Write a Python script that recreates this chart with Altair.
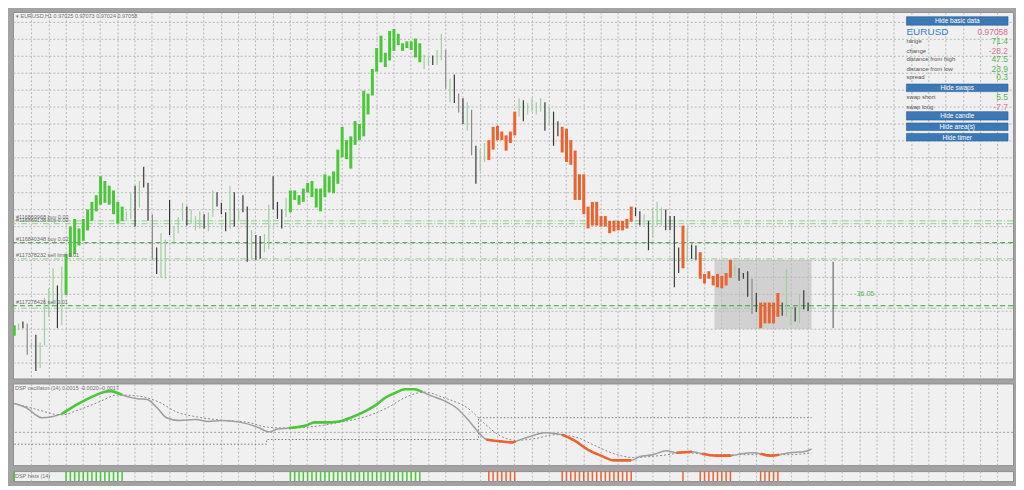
import altair as alt
import numpy as np
import pandas as pd

# ---------------- data ----------------
SYMBOL = "EURUSD"
TIMEFRAME = "H1"
LAST_OHLC = ["0.97025", "0.97073", "0.97024", "0.97058"]

# bar state: G = bullish (green), O = bearish (orange), D = dark neutral, L = light neutral, M = grey neutral
STATES = ("GLDMLDLLLL" "DLGGGGGGGG" "GGGGGGLLDL" "DDMDLLDLLL" "DLLLDLLDDD"
          "LDLDDLDDLL" "DDDLGGGGGG" "GGGGGGGGGG" "GGGGGGGGGG" "GGGGGLLDLL"
          "MLDMDLMDLL" "OOOOOOOLDL" "LLLDLDDOOO" "OOOOOOOOOO" "OOOODDLDLL"
          "LDDDDOLDDO" "OOOOOOOLDD" "DMDOOOOODL" "LDLDD")

# bar highs / lows in points (1 point = 0.00001)
HIGHS = [
    96963, 96973, 96983, 96973, 96873, 96913, 96873, 97108, 97158, 97263,
    97173, 97273, 97338, 97483, 97523, 97473, 97523, 97573, 97613, 97648,
    97748, 97723, 97698, 97673, 97613, 97588, 97563, 97663, 97698, 97723,
    97798, 97713, 97548, 97373, 97448, 97413, 97623, 97483, 97533, 97608,
    97588, 97573, 97538, 97563, 97548, 97558, 97673, 97663, 97608, 97558,
    97698, 97663, 97573, 97648, 97588, 97463, 97438, 97433, 97443, 97598,
    97748, 97613, 97573, 97633, 97673, 97673, 97648, 97683, 97713, 97723,
    97683, 97683, 97758, 97748, 97773, 97888, 98008, 97938, 97958, 98038,
    98023, 98198, 98183, 98313, 98423, 98488, 98398, 98513, 98523, 98498,
    98448, 98458, 98458, 98473, 98448, 98388, 98383, 98383, 98413, 98498,
    98413, 98263, 98283, 98183, 98158, 98138, 98098, 97908, 97888, 97923,
    97938, 98008, 98013, 97983, 97963, 97983, 98088, 98158, 98148, 98133,
    98158, 98138, 98158, 98138, 98113, 98088, 98038, 98008, 97998, 97938,
    97883, 97758, 97758, 97588, 97613, 97613, 97538, 97538, 97513, 97513,
    97513, 97513, 97523, 97588, 97583, 97563, 97548, 97513, 97583, 97613,
    97583, 97573, 97538, 97538, 97373, 97488, 97473, 97388, 97383, 97348,
    97233, 97248, 97223, 97233, 97223, 97238, 97308, 97283, 97263, 97238,
    97248, 97208, 97133, 97083, 97083, 97083, 97083, 97133, 97083, 97258,
    97058, 97058, 97123, 97148, 97083,
]
LOWS = [
    96908, 96938, 96948, 96808, 96848, 96723, 96738, 96858, 97008, 97073,
    96948, 96963, 97123, 97323, 97338, 97383, 97408, 97463, 97513, 97563,
    97598, 97608, 97598, 97548, 97498, 97513, 97513, 97523, 97483, 97583,
    97688, 97513, 97308, 97233, 97213, 97208, 97438, 97388, 97448, 97513,
    97488, 97498, 97463, 97473, 97473, 97458, 97533, 97588, 97548, 97458,
    97473, 97483, 97513, 97558, 97298, 97308, 97308, 97313, 97348, 97363,
    97573, 97523, 97473, 97533, 97558, 97623, 97598, 97613, 97663, 97638,
    97583, 97563, 97638, 97663, 97658, 97708, 97848, 97838, 97788, 97913,
    97938, 97958, 98073, 98173, 98298, 98348, 98323, 98358, 98408, 98438,
    98408, 98423, 98413, 98373, 98348, 98313, 98333, 98333, 98333, 98358,
    98208, 98138, 98133, 98083, 98023, 97988, 97858, 97708, 97773, 97823,
    97833, 97888, 97938, 97938, 97883, 97923, 97963, 98063, 98038, 98073,
    98088, 98073, 98088, 97988, 98023, 97908, 97958, 97873, 97823, 97808,
    97623, 97623, 97548, 97473, 97488, 97488, 97483, 97483, 97448, 97458,
    97463, 97463, 97473, 97508, 97538, 97488, 97488, 97358, 97423, 97488,
    97488, 97463, 97463, 97163, 97238, 97263, 97298, 97313, 97308, 97208,
    97183, 97208, 97173, 97163, 97158, 97173, 97213, 97223, 97198, 97208,
    97113, 97023, 97033, 96948, 96973, 96973, 96973, 97008, 97013, 97008,
    96963, 96983, 96973, 97048, 97038,
]

# trade / order lines (points)
ORDER_PRICES = [97513, 97498, 97398, 97313, 97066, 97053]
ORDER_LABELS = ["#116869968 buy 0.02", "#116869138 buy 0.02", "#116840348 buy 0.02",
                "#117378232 sell limit 0.01", "#117278426 sell 0.01", ""]
ORDER_KIND = ["light", "light", "dark", "light", "dark", "light"]

# shaded area and the higher-timeframe candle line
AREA_IDX = [162.3, 184.8]
AREA_PTS = [97308, 96943]
CANDLE_IDX = 189.8
CANDLE_PTS = [97298, 96948]
AREA_TEXT = "36.05"
AREA_TEXT_IDX = 197.3
AREA_TEXT_PTS = 97128

# info panel
INFO_PRICE = "0.97058"
INFO_ROWS = [("range", "71.4"), ("change", "-28.2"), ("distance from high", "47.5"),
             ("distance from low", "23.9"), ("spread", "0.3")]
SWAP_ROWS = [("swap short", "5.5"), ("swap long", "-7.7")]
BUTTONS = ["Hide basic data", "Hide swaps", "Hide candle", "Hide area(s)", "Hide timer"]

# DSP oscillator (values in units of 0.0001), x in bar index
OSC_IDX = [0, 2.6, 6.4, 8.7, 11, 15, 18.5, 20.8, 22.3, 24, 25, 28.5, 30.8, 33, 35.3, 38.3, 42, 45,
           48, 52.6, 56.4, 59.2, 61, 63.7, 67.8, 69.6, 72.3, 75.3, 78.5, 81.4, 83.7, 86, 88.3,
           90.5, 92.8, 94.6, 96.7, 99.6, 102.6, 105.7, 108.3, 109.4, 112.6, 115.5, 116.2, 119.4,
           123, 125.8, 127, 129.8, 133, 136, 139, 143, 145, 148, 151.2, 153.5, 157.1, 159.4,
           162.6, 166.2, 168.5, 171.6, 173, 175.3, 177.3, 179.8, 183, 184.8]
OSC_VAL = [29.6, 25.7, 15.0, 16.0, 18.9, 29.6, 37.3, 41.2, 42.2, 40.3, 38.3, 34.4, 33.5, 25.7, 15.0,
           12.1, 13.1, 11.2, 12.1, 10.2, 5.3, 0.5, 3.4, 4.4, 7.3, 10.2, 10.2, 11.2, 16.0, 21.8, 27.6,
           35.4, 40.3, 44.1, 44.1, 41.2, 37.3, 32.5, 24.7, 10.2, -3.4, -7.3, -9.2, -10.2, -9.2,
           -4.4, -0.5, -1.5, -2.4, -8.2, -17.9, -23.8, -28.6, -28.6, -24.7, -22.8, -18.9, -20.9,
           -19.9, -21.8, -23.8, -23.8, -21.8, -20.9, -21.8, -23.8, -22.8, -20.9, -19.9, -17.0]
SIG_IDX = [0, 4.2, 11, 14.8, 19.4, 24, 28.5, 33.7, 37.6, 42.1, 48.9, 54.2, 58.7, 63.3, 70, 75.3,
           81.4, 86.7, 90.5, 95, 99.6, 105.7, 108.7, 112.6, 116.2, 120.8, 125.3, 129.8, 134.4,
           139, 143.5, 149.6, 155.8, 161.7, 167.8, 173.9, 179.8, 184.8]
SIG_VAL = [29.6, 24.7, 17.9, 22.8, 30.6, 38.3, 37.3, 30.6, 20.9, 16.0, 12.1, 10.2, 5.3, 4.4, 6.3,
           10.2, 16.0, 25.7, 35.4, 41.2, 35.4, 22.8, 10.2, -3.4, -8.2, -6.3, -2.4, -4.4, -13.1,
           -21.8, -25.7, -23.8, -20.9, -22.8, -22.8, -22.8, -22.8, -20.9]
LEVEL_IDX = [0, 58.5, 107.6, 184.8]
LEVEL_VAL = [-12.1, -7.3, 15.0, 15.0]
GREEN_SEGS = [(11, 25), (63.7, 94.6)]
ORANGE_SEGS = [(109.4, 116.2), (127, 143), (153.5, 157.1), (159.4, 166.2), (173, 177.3)]
OSC_LABEL = "DSP oscillator (14) 0.0015 -0.0020 -0.0017"
HIST_LABEL = "DSP hists (14)"

# ---------------- styling ----------------
GREEN = "#4CC63A"
ORANGE = "#EA6330"
DARK = "#383838"
LIGHT = "#9FCF9F"
MID = "#8A8A8A"
GRIDC = "#B6B6B6"
W = 1004
H_MAIN, H_OSC, H_HIST = 368, 82, 10
FONT = "Liberation Sans"

assert len(STATES) == len(HIGHS) == len(LOWS)

bars = pd.DataFrame({
    "idx": np.arange(len(STATES)),
    "hi": np.array(HIGHS) / 1e5,
    "lo": np.array(LOWS) / 1e5,
    "st": list(STATES),
})

xs = alt.Scale(domain=[-0.3, 231.5], nice=False, zero=False)
ys = alt.Scale(domain=[0.96683, 0.98613], nice=False, zero=False)
GRID_X = [float(v) for v in np.arange(3.9, 231.5, 4.0)]
GRID_Y = [(98563 - 89.75 * k) / 1e5 for k in range(22)]
xaxis = alt.Axis(values=GRID_X, grid=True, labels=False, ticks=False, domain=False, title=None,
                 gridColor=GRIDC, gridDash=[2, 2], gridWidth=1)
yaxis = alt.Axis(values=GRID_Y, grid=True, labels=False, ticks=False, domain=False, title=None,
                 gridColor=GRIDC, gridDash=[2, 2], gridWidth=1)
X = alt.X("idx:Q", scale=xs, axis=xaxis)
color_scale = alt.Scale(domain=["G", "O", "D", "L", "M"], range=[GREEN, ORANGE, DARK, LIGHT, MID])


def txt(s, x, y, size, color, align="left", weight="normal"):
    return alt.Chart(pd.DataFrame({"t": [s]})).mark_text(
        align=align, baseline="middle", fontSize=size, color=color, fontWeight=weight, font=FONT
    ).encode(x=alt.value(x), y=alt.value(y), text="t:N")


# ---------------- main panel ----------------
area_df = pd.DataFrame({"idx": [AREA_IDX[0]], "idx2": [AREA_IDX[1]],
                        "p1": [AREA_PTS[0] / 1e5], "p2": [AREA_PTS[1] / 1e5]})
area = alt.Chart(area_df).mark_rect(color="#BDBDBD", opacity=0.6).encode(
    x=X, x2="idx2:Q", y=alt.Y("p1:Q", scale=ys, axis=yaxis), y2="p2:Q")

orders = pd.DataFrame({"price": np.array(ORDER_PRICES) / 1e5, "label": ORDER_LABELS, "kind": ORDER_KIND})
ord_light = alt.Chart(orders).transform_filter("datum.kind == 'light'").mark_rule(
    color="#8FD08F", strokeDash=[6, 2, 1, 2], strokeWidth=1).encode(y=alt.Y("price:Q", scale=ys, axis=yaxis))
ord_dark = alt.Chart(orders).transform_filter("datum.kind == 'dark'").mark_rule(
    color="#3E9A3E", strokeDash=[5, 3], strokeWidth=1).encode(y=alt.Y("price:Q", scale=ys, axis=yaxis))
ord_text = alt.Chart(orders).transform_filter("datum.label != ''").mark_text(
    align="left", baseline="bottom", dy=-0.5, fontSize=5.5, color="#6A6A6A", font=FONT).encode(
    x=alt.value(3), y=alt.Y("price:Q", scale=ys, axis=yaxis), text="label:N")

thin = alt.Chart(bars).transform_filter("datum.st != 'G' && datum.st != 'O'").mark_rule(strokeWidth=1.2).encode(
    x=X, y=alt.Y("hi:Q", scale=ys, axis=yaxis), y2="lo:Q",
    color=alt.Color("st:N", scale=color_scale, legend=None))
thick = alt.Chart(bars).transform_filter("datum.st == 'G' || datum.st == 'O'").mark_rule(strokeWidth=3).encode(
    x=X, y=alt.Y("hi:Q", scale=ys, axis=yaxis), y2="lo:Q",
    color=alt.Color("st:N", scale=color_scale, legend=None))

candle_df = pd.DataFrame({"idx": [CANDLE_IDX], "hi": [CANDLE_PTS[0] / 1e5], "lo": [CANDLE_PTS[1] / 1e5]})
candle = alt.Chart(candle_df).mark_rule(color="#505050", strokeWidth=1).encode(
    x=X, y=alt.Y("hi:Q", scale=ys, axis=yaxis), y2="lo:Q")

atext_df = pd.DataFrame({"idx": [AREA_TEXT_IDX], "p": [AREA_TEXT_PTS / 1e5], "t": [AREA_TEXT]})
atext = alt.Chart(atext_df).mark_text(fontSize=7, color="#5CB85C", font=FONT).encode(
    x=X, y=alt.Y("p:Q", scale=ys, axis=yaxis), text="t:N")

title = txt("\u25be " + SYMBOL + "," + TIMEFRAME + "  " + " ".join(LAST_OHLC), 3, 4.5, 5.5, "#707070")

# info panel
PL, PR = 897, 999
btn_y = [(4.8, 13.3), (72.4, 80.0), (100.1, 108.6), (111.5, 119.1), (122.0, 129.6)]
panel = []
for label, (y0, y1) in zip(BUTTONS, btn_y):
    panel.append(alt.Chart(pd.DataFrame({"t": [label]})).mark_rect(
        color="#3B78B5", stroke="#2B5E92", strokeWidth=0.6).encode(
        x=alt.value(PL), x2=alt.value(PR), y=alt.value(y0), y2=alt.value(y1)))
    panel.append(txt(label, (PL + PR) / 2, (y0 + y1) / 2 + 0.3, 6.5, "white", align="center"))
panel.append(txt(SYMBOL, PL, 20.0, 10, "#3A7CC8"))
panel.append(txt(INFO_PRICE, PR, 20.0, 8.5, "#E06C8C", align="right"))
row_y = [29.5, 39.0, 47.7, 57.2, 65.8]
swap_y = [85.8, 95.3]
for (lab, val), yy in list(zip(INFO_ROWS, row_y)) + list(zip(SWAP_ROWS, swap_y)):
    panel.append(txt(lab, PL, yy, 6, "#555555"))
    panel.append(txt(val, PR, yy, 8.5, "#E07A98" if val.startswith("-") else "#52B852", align="right"))

main = alt.layer(area, ord_light, ord_dark, thin, thick, candle, ord_text, atext, title, *panel).properties(
    width=W, height=H_MAIN)

# ---------------- oscillator panel ----------------
oys = alt.Scale(domain=[-0.00335, 0.0050], nice=False, zero=False)
OY = alt.Y("v:Q", scale=oys, axis=None)
osc = pd.DataFrame({"idx": OSC_IDX, "v": np.array(OSC_VAL) / 1e4})
sig = pd.DataFrame({"idx": SIG_IDX, "v": np.array(SIG_VAL) / 1e4})
lev = pd.DataFrame({"idx": LEVEL_IDX, "v": np.array(LEVEL_VAL) / 1e4})
segs = []
for k, (a, b) in enumerate(GREEN_SEGS):
    s = osc[(osc.idx >= a) & (osc.idx <= b)].copy(); s["seg"] = f"g{k}"; s["c"] = "G"; segs.append(s)
for k, (a, b) in enumerate(ORANGE_SEGS):
    s = osc[(osc.idx >= a) & (osc.idx <= b)].copy(); s["seg"] = f"o{k}"; s["c"] = "O"; segs.append(s)
segdf = pd.concat(segs)

zero = alt.Chart(pd.DataFrame({"v": [0.0]})).mark_rule(color="#A0A0A0", strokeDash=[2, 2]).encode(y=OY)
level = alt.Chart(lev).mark_line(color="#7A7A7A", strokeDash=[1.5, 2], strokeWidth=1,
                                 interpolate="step-after").encode(x=X, y=OY)
sigl = alt.Chart(sig).mark_line(color="#8A8A8A", strokeDash=[2, 2], strokeWidth=1,
                                interpolate="monotone").encode(x=X, y=OY)
oscl = alt.Chart(osc).mark_line(color="#9E9E9E", strokeWidth=1.5, interpolate="monotone").encode(x=X, y=OY)
oscc = alt.Chart(segdf).mark_line(strokeWidth=2.6, interpolate="monotone").encode(
    x=X, y=OY, detail="seg:N",
    color=alt.Color("c:N", scale=alt.Scale(domain=["G", "O"], range=[GREEN, ORANGE]), legend=None))
olab = txt(OSC_LABEL, 2, 5, 5.5, "#707070")
oscp = alt.layer(zero, level, sigl, oscl, oscc, olab).properties(width=W, height=H_OSC)

# ---------------- histogram panel ----------------
hist = bars[bars.st.isin(["G", "O"])].copy()
hist["h"] = 1.0
hist["z"] = 0.0
hys = alt.Scale(domain=[0, 1], nice=False, zero=False)
hbars = alt.Chart(hist).mark_rule(strokeWidth=1.5).encode(
    x=X, y=alt.Y("h:Q", scale=hys, axis=None), y2="z:Q",
    color=alt.Color("st:N", scale=alt.Scale(domain=["G", "O"], range=[GREEN, ORANGE]), legend=None))
hlab = txt(HIST_LABEL, 2, 5, 5.5, "#707070")
histp = alt.layer(hbars, hlab).properties(width=W, height=H_HIST)

chart = alt.vconcat(main, oscp, histp, spacing=3).properties(
    background="#A3A3A3", padding=2
).configure(font=FONT).configure_view(fill="#F0F0F0", stroke="#8E8E8E", strokeWidth=1)

chart.save("out.html", embed_options={"renderer": "svg", "actions": False})
